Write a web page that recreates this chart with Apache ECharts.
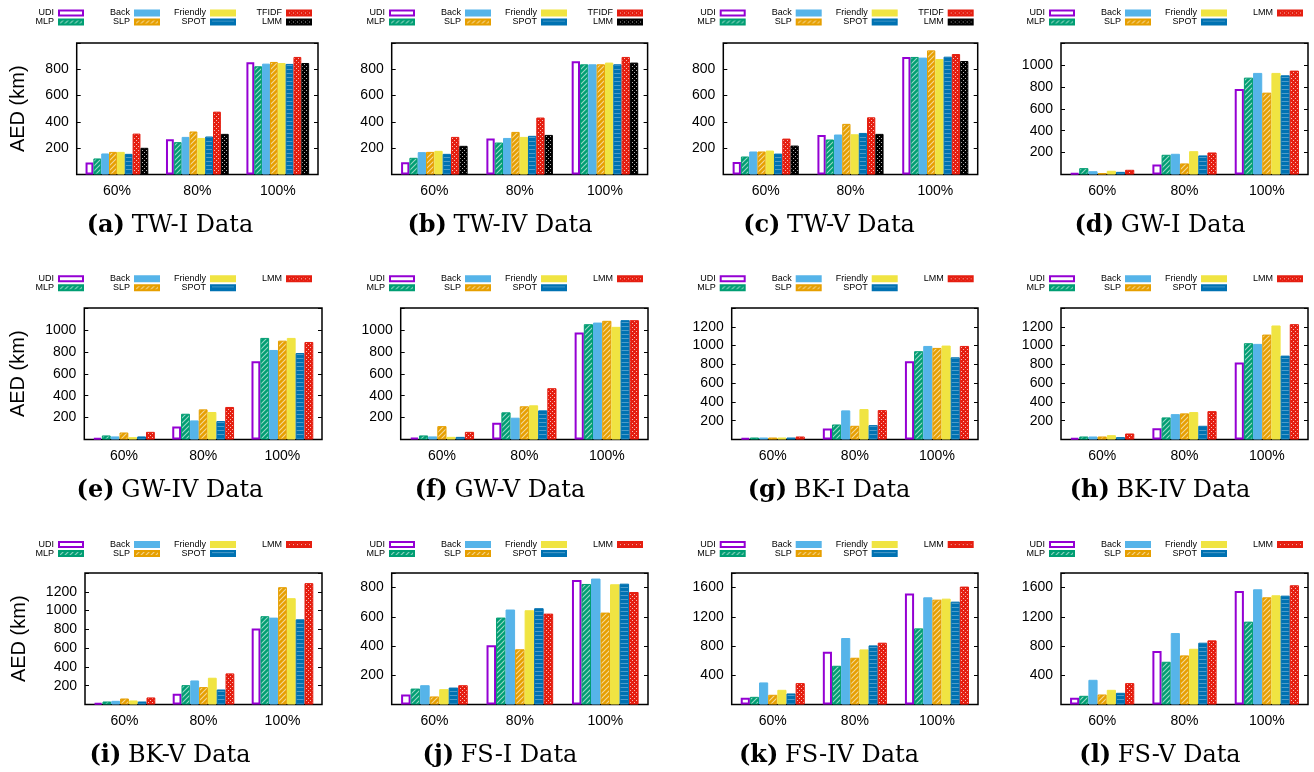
<!DOCTYPE html>
<html>
<head>
<meta charset="utf-8">
<script src="https://cdn.jsdelivr.net/npm/echarts@6/dist/echarts.min.js"></script>
<style>
html, body { margin: 0; padding: 0; background: #fff; }
#wrap { position: relative; width: 1314px; height: 772px; }
.pan { position: absolute; }
</style>
</head>
<body>
<div id="wrap"></div>
<script>
const groups = ['60%', '80%', '100%'];
const methods8 = ['UDI', 'MLP', 'Back', 'SLP', 'Friendly', 'SPOT', 'TFIDF', 'LMM'];
const methods7 = ['UDI', 'MLP', 'Back', 'SLP', 'Friendly', 'SPOT', 'LMM'];

// one row per method: [60%, 80%, 100%]
const twI = [[91, 268, 853], [122, 246, 823], [160, 286, 843], [172, 327, 856], [172, 278, 848], [157, 289, 841], [311, 478, 894], [203, 309, 848]];
const twIV = [[94, 273, 861], [127, 243, 838], [170, 278, 838], [172, 324, 838], [180, 286, 851], [157, 294, 838], [286, 433, 894], [218, 301, 851]];
const twV = [[96, 301, 894], [137, 266, 894], [175, 304, 889], [175, 385, 944], [182, 306, 878], [159, 316, 896], [273, 435, 916], [220, 309, 863]];
const gwI = [[12, 91, 780], [58, 180, 884], [30, 189, 927], [12, 101, 747], [34, 213, 927], [24, 174, 905], [43, 201, 948]];
const gwIV = [[15, 119, 713], [37, 235, 927], [28, 174, 817], [64, 275, 902], [21, 251, 927], [28, 168, 789], [70, 297, 890]];
const gwV = [[18, 153, 976], [37, 248, 1052], [28, 199, 1067], [122, 303, 1083], [24, 312, 1028], [24, 266, 1089], [70, 468, 1089]];
const bkI = [[14, 117, 833], [21, 160, 940], [21, 310, 996], [21, 146, 975], [21, 324, 1000], [21, 153, 875], [32, 313, 996]];
const bkIV = [[18, 121, 819], [32, 235, 1025], [32, 270, 1018], [32, 278, 1117], [46, 292, 1214], [25, 146, 893], [64, 302, 1228]];
const bkV = [[18, 114, 808], [32, 206, 940], [39, 256, 925], [64, 185, 1249], [43, 285, 1132], [32, 160, 907], [75, 331, 1292]];
const fsI = [[68, 406, 852], [109, 595, 825], [132, 650, 862], [55, 378, 629], [105, 645, 823], [116, 659, 827], [132, 622, 770]];
const fsIV = [[91, 722, 1518], [105, 530, 1042], [302, 910, 1467], [133, 640, 1435], [201, 754, 1449], [151, 809, 1408], [293, 846, 1614]];
const fsV = [[91, 731, 1554], [119, 585, 1134], [338, 978, 1577], [137, 672, 1467], [201, 763, 1495], [160, 846, 1490], [293, 878, 1632]];

const panels = [
  { tag: '(a)', title: 'TW-I Data', data: twI, methods: methods8, max: 1000, step: 200, row: 0, col: 0, x0: 76.7, x1: 318, ylabel: 48 },
  { tag: '(b)', title: 'TW-IV Data', data: twIV, methods: methods8, max: 1000, step: 200, row: 0, col: 1, x0: 391.7, x1: 647.6 },
  { tag: '(c)', title: 'TW-V Data', data: twV, methods: methods8, max: 1000, step: 200, row: 0, col: 2, x0: 723.3, x1: 977.7 },
  { tag: '(d)', title: 'GW-I Data', data: gwI, methods: methods7, max: 1200, step: 200, row: 0, col: 3, x0: 1061, x1: 1308 },
  { tag: '(e)', title: 'GW-IV Data', data: gwIV, methods: methods7, max: 1200, step: 200, row: 1, col: 0, x0: 84.3, x1: 322, ylabel: 56 },
  { tag: '(f)', title: 'GW-V Data', data: gwV, methods: methods7, max: 1200, step: 200, row: 1, col: 1, x0: 400.7, x1: 648 },
  { tag: '(g)', title: 'BK-I Data', data: bkI, methods: methods7, max: 1400, step: 200, row: 1, col: 2, x0: 731.7, x1: 978 },
  { tag: '(h)', title: 'BK-IV Data', data: bkIV, methods: methods7, max: 1400, step: 200, row: 1, col: 3, x0: 1061, x1: 1308 },
  { tag: '(i)', title: 'BK-V Data', data: bkV, methods: methods7, max: 1400, step: 200, row: 2, col: 0, x0: 85, x1: 322, ylabel: 56 },
  { tag: '(j)', title: 'FS-I Data', data: fsI, methods: methods7, max: 900, step: 200, row: 2, col: 1, x0: 391.7, x1: 648 },
  { tag: '(k)', title: 'FS-IV Data', data: fsIV, methods: methods7, max: 1800, step: 400, row: 2, col: 2, x0: 731.7, x1: 978 },
  { tag: '(l)', title: 'FS-V Data', data: fsV, methods: methods7, max: 1800, step: 400, row: 2, col: 3, x0: 1061, x1: 1308 }
];

const colLeft = [0, 330, 655, 985];
const colWidth = [330, 325, 330, 329];
const rowTop = [0, 265, 530];
const rowHeight = [265, 265, 242];
const legendRight = [84, 415, 745.7, 1075];
const captionX = [170, 500, 829, 1160];

function pattern(bg, kind) {
  const c = document.createElement('canvas');
  const g = c.getContext('2d');
  if (kind === 'diag') {
    c.width = 5; c.height = 5;
    g.fillStyle = bg; g.fillRect(0, 0, 5, 5);
    g.strokeStyle = 'rgba(255,255,255,0.6)';
    g.lineWidth = 1.1;
    g.beginPath();
    g.moveTo(-1, 6); g.lineTo(6, -1);
    g.moveTo(-1, 1); g.lineTo(1, -1);
    g.moveTo(4, 6); g.lineTo(6, 4);
    g.stroke();
  } else if (kind === 'dots') {
    c.width = 4; c.height = 4;
    g.fillStyle = bg; g.fillRect(0, 0, 4, 4);
    g.fillStyle = 'rgba(255,255,255,0.7)';
    g.fillRect(0, 0, 1, 1);
    g.fillRect(2, 2, 1, 1);
  } else {
    c.width = 6; c.height = 4;
    g.fillStyle = bg; g.fillRect(0, 0, 6, 4);
    g.fillStyle = 'rgba(255,255,255,0.3)';
    g.fillRect(0, 1, 6, 1);
  }
  return { image: c, repeat: 'repeat' };
}

function styleOf(m, hasTfidf) {
  switch (m) {
    case 'UDI': return { color: '#fff', borderColor: '#9400d3', borderWidth: 2 };
    case 'MLP': return { color: pattern('#009e73', 'diag'), borderColor: '#009e73', borderWidth: 1 };
    case 'Back': return { color: '#56b4e9', borderColor: '#56b4e9', borderWidth: 1 };
    case 'SLP': return { color: pattern('#e69f00', 'diag'), borderColor: '#e69f00', borderWidth: 1 };
    case 'Friendly': return { color: '#f0e442', borderColor: '#f0e442', borderWidth: 1 };
    case 'SPOT': return { color: pattern('#0072b2', 'hline'), borderColor: '#0072b2', borderWidth: 1 };
    case 'TFIDF': return { color: pattern('#e51e10', 'dots'), borderColor: '#e51e10', borderWidth: 1 };
    default:
      return hasTfidf
        ? { color: pattern('#000000', 'dots'), borderColor: '#000', borderWidth: 1 }
        : { color: pattern('#e51e10', 'dots'), borderColor: '#e51e10', borderWidth: 1 };
  }
}

const wrap = document.getElementById('wrap');
panels.forEach((p) => {
  const div = document.createElement('div');
  div.className = 'pan';
  const L = colLeft[p.col], T = rowTop[p.row];
  const W = colWidth[p.col], H = rowHeight[p.row];
  div.style.left = L + 'px';
  div.style.top = T + 'px';
  div.style.width = W + 'px';
  div.style.height = H + 'px';
  wrap.appendChild(div);
  const chart = echarts.init(div);
  const hasTfidf = p.methods.length === 8;

  const legends = [];
  p.methods.forEach((m, i) => {
    const c = Math.floor(i / 2), r = i % 2;
    const yc = 13.5 + r * 9 + p.row * 0.8;
    legends.push({
      data: [m],
      right: W - (legendRight[p.col] - L + c * 76),
      top: yc - 5,
      padding: 0,
      align: 'right',
      itemWidth: 24,
      itemHeight: 5,
      icon: 'rect',
      selectedMode: false,
      textStyle: { fontSize: 9, color: '#000', fontFamily: 'Liberation Sans, Arial' }
    });
  });

  const series = p.methods.map((m, i) => ({
    name: m,
    type: 'bar',
    data: p.data[i],
    barGap: '0%',
    barCategoryGap: '22%',
    itemStyle: styleOf(m, hasTfidf),
    emphasis: { disabled: true }
  }));

  const fmt = (v) => (v === 0 || v >= p.max || v % p.step !== 0) ? '' : String(v);

  chart.setOption({
    animation: false,
    legend: legends,
    grid: {
      left: p.x0 - L, top: 43, width: p.x1 - p.x0, height: 131.5,
      show: true, borderColor: '#000', borderWidth: 1.5
    },
    xAxis: {
      type: 'category',
      data: groups,
      axisLine: { show: false },
      axisTick: { show: false },
      axisLabel: { fontSize: 14, color: '#000', margin: 10, fontFamily: 'Liberation Sans, Arial' }
    },
    yAxis: [
      {
        type: 'value', min: 0, max: p.max, interval: p.step,
        splitLine: { show: false },
        axisLine: { show: false },
        axisTick: { show: true, inside: true, length: 4, lineStyle: { color: '#000' } },
        axisLabel: { fontSize: 14, color: '#000', margin: 8, fontFamily: 'Liberation Sans, Arial', formatter: fmt },
        name: p.ylabel ? 'AED (km)' : '',
        nameLocation: 'middle',
        nameRotate: 90,
        nameGap: p.ylabel || 0,
        nameTextStyle: { fontSize: 20, color: '#000', fontFamily: 'Liberation Sans, Arial' }
      },
      {
        type: 'value', position: 'right', min: 0, max: p.max, interval: p.step,
        splitLine: { show: false },
        axisLine: { show: false },
        axisLabel: { show: false },
        axisTick: { show: true, inside: true, length: 4, lineStyle: { color: '#000' } }
      }
    ],
    graphic: [{
      type: 'text',
      x: captionX[p.col] - L,
      y: 226,
      style: {
        text: '{b|' + p.tag + '}  {n|' + p.title + '}',
        align: 'center',
        verticalAlign: 'middle',
        rich: {
          b: { fontSize: 24, fontWeight: 'bold', fontFamily: 'DejaVu Serif', fill: '#000' },
          n: { fontSize: 24, fontFamily: 'DejaVu Serif', fill: '#000' }
        }
      }
    }],
    series: series
  });
});
</script>
</body>
</html>
